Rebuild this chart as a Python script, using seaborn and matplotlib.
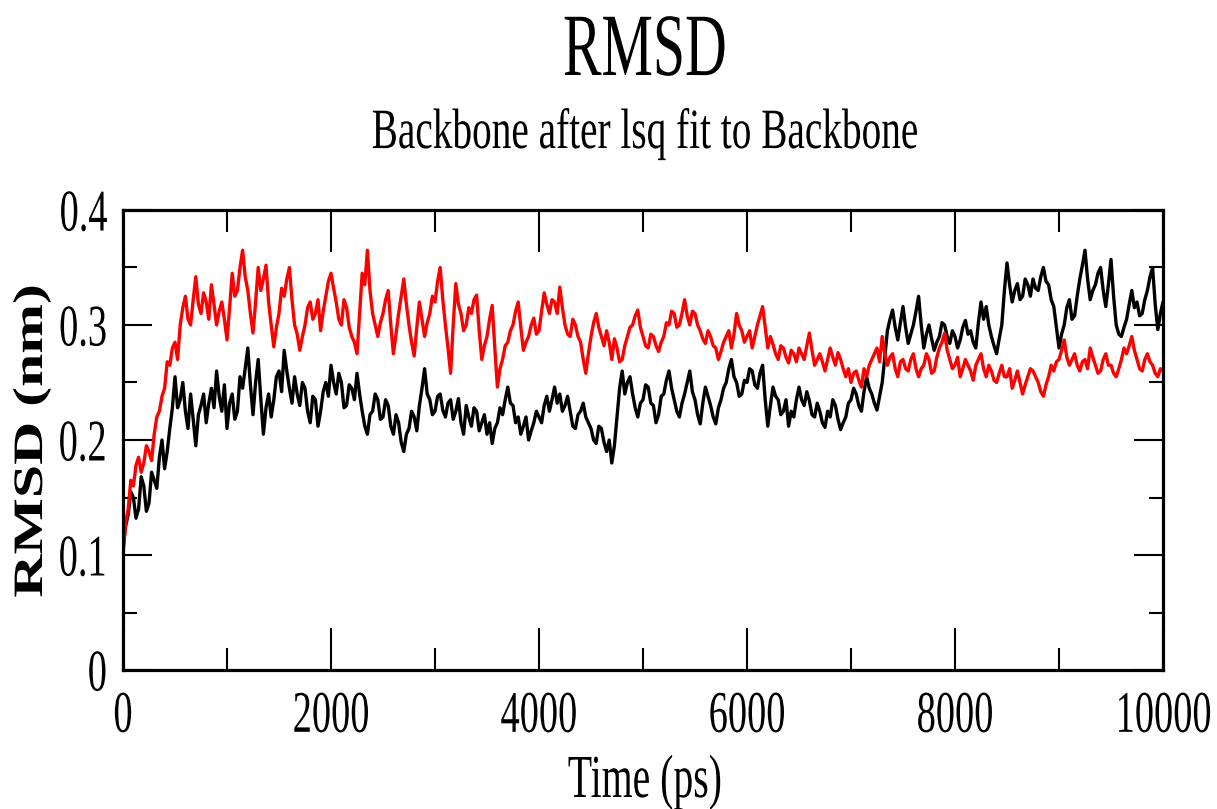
import numpy as np
import pandas as pd
import matplotlib
matplotlib.use("Agg")
import matplotlib.pyplot as plt
import seaborn as sns
from matplotlib.patheffects import AbstractPathEffect
from matplotlib.transforms import Affine2D, Bbox
from matplotlib.ticker import MultipleLocator

# ---------------- data (25 ps sampling) ----------------
time_ps = np.arange(0, 10001, 25)

rmsd_black = [
    0.105, 0.125, 0.135, 0.155, 0.150, 0.132, 0.140, 0.168, 0.160, 0.138,
    0.145, 0.172, 0.165, 0.158, 0.185, 0.200, 0.175, 0.190, 0.210, 0.228,
    0.255, 0.228, 0.235, 0.250, 0.225, 0.210, 0.240, 0.218, 0.195, 0.222,
    0.230, 0.240, 0.215, 0.232, 0.245, 0.228, 0.260, 0.238, 0.225, 0.248,
    0.210, 0.232, 0.240, 0.218, 0.225, 0.255, 0.245, 0.262, 0.280, 0.248,
    0.222, 0.250, 0.270, 0.236, 0.205, 0.228, 0.240, 0.220, 0.235, 0.255,
    0.260, 0.242, 0.278, 0.260, 0.245, 0.232, 0.255, 0.240, 0.230, 0.250,
    0.245, 0.225, 0.215, 0.238, 0.235, 0.212, 0.225, 0.242, 0.250, 0.238,
    0.265, 0.250, 0.240, 0.258, 0.250, 0.228, 0.230, 0.248, 0.245, 0.235,
    0.258, 0.240, 0.225, 0.212, 0.205, 0.222, 0.225, 0.240, 0.235, 0.218,
    0.220, 0.235, 0.230, 0.212, 0.205, 0.222, 0.215, 0.198, 0.190, 0.205,
    0.210, 0.225, 0.220, 0.208, 0.230, 0.245, 0.262, 0.240, 0.235, 0.222,
    0.225, 0.238, 0.240, 0.226, 0.220, 0.232, 0.235, 0.218, 0.225, 0.236,
    0.215, 0.205, 0.230, 0.220, 0.212, 0.228, 0.225, 0.208, 0.215, 0.222,
    0.205, 0.215, 0.197, 0.210, 0.215, 0.228, 0.222, 0.235, 0.246, 0.232,
    0.230, 0.215, 0.220, 0.205, 0.212, 0.220, 0.200, 0.208, 0.215, 0.225,
    0.220, 0.215, 0.230, 0.238, 0.225, 0.235, 0.246, 0.232, 0.240, 0.225,
    0.230, 0.238, 0.225, 0.212, 0.210, 0.222, 0.225, 0.232, 0.220, 0.215,
    0.210, 0.200, 0.197, 0.212, 0.210, 0.198, 0.190, 0.200, 0.180, 0.195,
    0.220, 0.245, 0.260, 0.240, 0.250, 0.255, 0.240, 0.228, 0.220, 0.232,
    0.235, 0.248, 0.246, 0.232, 0.230, 0.215, 0.222, 0.238, 0.240, 0.252,
    0.260, 0.245, 0.235, 0.225, 0.220, 0.232, 0.240, 0.250, 0.260, 0.242,
    0.235, 0.222, 0.214, 0.232, 0.246, 0.238, 0.230, 0.220, 0.214, 0.228,
    0.235, 0.245, 0.250, 0.262, 0.270, 0.255, 0.250, 0.238, 0.240, 0.252,
    0.250, 0.262, 0.260, 0.248, 0.245, 0.258, 0.265, 0.235, 0.212, 0.230,
    0.246, 0.238, 0.235, 0.222, 0.225, 0.235, 0.212, 0.225, 0.220, 0.235,
    0.246, 0.235, 0.230, 0.242, 0.234, 0.222, 0.220, 0.232, 0.225, 0.215,
    0.211, 0.225, 0.220, 0.235, 0.230, 0.218, 0.209, 0.215, 0.220, 0.232,
    0.235, 0.245, 0.240, 0.230, 0.225, 0.242, 0.255, 0.245, 0.240, 0.232,
    0.226, 0.238, 0.250, 0.272, 0.295, 0.305, 0.313, 0.298, 0.287, 0.302,
    0.316, 0.298, 0.284, 0.292, 0.300, 0.312, 0.325, 0.300, 0.280, 0.292,
    0.300, 0.288, 0.278, 0.285, 0.290, 0.302, 0.300, 0.290, 0.284, 0.295,
    0.290, 0.280, 0.287, 0.298, 0.304, 0.292, 0.295, 0.285, 0.280, 0.302,
    0.320, 0.305, 0.316, 0.300, 0.290, 0.282, 0.275, 0.288, 0.300, 0.330,
    0.354, 0.335, 0.320, 0.330, 0.336, 0.322, 0.325, 0.340, 0.335, 0.325,
    0.340, 0.332, 0.330, 0.342, 0.350, 0.338, 0.335, 0.322, 0.316, 0.298,
    0.280, 0.292, 0.300, 0.315, 0.322, 0.305, 0.308, 0.325, 0.340, 0.352,
    0.365, 0.340, 0.322, 0.330, 0.335, 0.345, 0.350, 0.330, 0.316, 0.335,
    0.357, 0.325, 0.300, 0.292, 0.290, 0.298, 0.305, 0.318, 0.330, 0.315,
    0.320, 0.308, 0.310, 0.322, 0.330, 0.342, 0.350, 0.318, 0.296, 0.310,
    0.320,
]

rmsd_red = [
    0.100, 0.128, 0.140, 0.165, 0.160, 0.178, 0.185, 0.172, 0.180, 0.195,
    0.190, 0.182, 0.205, 0.220, 0.225, 0.238, 0.245, 0.268, 0.265, 0.280,
    0.285, 0.270, 0.300, 0.315, 0.325, 0.305, 0.300, 0.322, 0.342, 0.318,
    0.310, 0.328, 0.320, 0.305, 0.335, 0.318, 0.300, 0.312, 0.320, 0.305,
    0.287, 0.315, 0.345, 0.325, 0.330, 0.350, 0.365, 0.342, 0.330, 0.310,
    0.293, 0.320, 0.350, 0.330, 0.340, 0.352, 0.320, 0.300, 0.281, 0.298,
    0.310, 0.332, 0.325, 0.340, 0.350, 0.322, 0.300, 0.292, 0.278, 0.290,
    0.300, 0.315, 0.320, 0.305, 0.310, 0.322, 0.295, 0.312, 0.325, 0.338,
    0.345, 0.332, 0.320, 0.305, 0.300, 0.322, 0.315, 0.298, 0.290, 0.285,
    0.275, 0.310, 0.345, 0.335, 0.365, 0.330, 0.310, 0.300, 0.290, 0.302,
    0.310, 0.322, 0.330, 0.300, 0.275, 0.292, 0.310, 0.325, 0.340, 0.318,
    0.300, 0.285, 0.273, 0.298, 0.320, 0.305, 0.290, 0.302, 0.310, 0.325,
    0.320, 0.338, 0.350, 0.322, 0.300, 0.280, 0.258, 0.300, 0.336, 0.318,
    0.310, 0.295, 0.300, 0.315, 0.310, 0.322, 0.326, 0.295, 0.270, 0.282,
    0.290, 0.305, 0.317, 0.280, 0.246, 0.262, 0.270, 0.282, 0.285, 0.295,
    0.300, 0.312, 0.320, 0.298, 0.278, 0.285, 0.290, 0.300, 0.306, 0.292,
    0.295, 0.312, 0.328, 0.318, 0.310, 0.322, 0.320, 0.310, 0.333, 0.315,
    0.300, 0.292, 0.290, 0.305, 0.300, 0.290, 0.285, 0.270, 0.258, 0.275,
    0.290, 0.302, 0.310, 0.298, 0.290, 0.282, 0.295, 0.285, 0.270, 0.288,
    0.280, 0.268, 0.270, 0.282, 0.290, 0.298, 0.300, 0.308, 0.313, 0.298,
    0.290, 0.282, 0.280, 0.292, 0.290, 0.282, 0.277, 0.285, 0.290, 0.302,
    0.300, 0.312, 0.310, 0.298, 0.300, 0.310, 0.322, 0.308, 0.300, 0.312,
    0.310, 0.300, 0.295, 0.288, 0.284, 0.295, 0.290, 0.282, 0.280, 0.270,
    0.277, 0.285, 0.290, 0.295, 0.280, 0.292, 0.310, 0.300, 0.295, 0.285,
    0.290, 0.295, 0.280, 0.290, 0.300, 0.308, 0.316, 0.298, 0.280, 0.290,
    0.283, 0.275, 0.270, 0.282, 0.280, 0.272, 0.267, 0.278, 0.275, 0.268,
    0.280, 0.275, 0.270, 0.282, 0.293, 0.278, 0.265, 0.270, 0.275, 0.268,
    0.260, 0.270, 0.280, 0.272, 0.265, 0.276, 0.270, 0.262, 0.255, 0.262,
    0.250, 0.258, 0.260, 0.252, 0.246, 0.262, 0.255, 0.265, 0.270, 0.275,
    0.280, 0.268, 0.290, 0.275, 0.265, 0.272, 0.275, 0.262, 0.255, 0.268,
    0.270, 0.262, 0.260, 0.270, 0.275, 0.262, 0.255, 0.262, 0.265, 0.275,
    0.270, 0.258, 0.260, 0.272, 0.280, 0.285, 0.293, 0.278, 0.270, 0.262,
    0.265, 0.272, 0.255, 0.262, 0.270, 0.265, 0.260, 0.252, 0.265, 0.270,
    0.275, 0.262, 0.255, 0.265, 0.260, 0.252, 0.250, 0.258, 0.265, 0.255,
    0.255, 0.262, 0.245, 0.252, 0.260, 0.250, 0.240, 0.248, 0.255, 0.262,
    0.260, 0.255, 0.250, 0.242, 0.238, 0.248, 0.255, 0.265, 0.260, 0.268,
    0.270, 0.278, 0.287, 0.272, 0.265, 0.270, 0.275, 0.265, 0.260, 0.268,
    0.270, 0.262, 0.280, 0.272, 0.265, 0.258, 0.260, 0.270, 0.275, 0.265,
    0.265, 0.258, 0.255, 0.262, 0.270, 0.280, 0.275, 0.282, 0.290, 0.278,
    0.270, 0.262, 0.260, 0.270, 0.275, 0.268, 0.265, 0.258, 0.255, 0.262,
    0.260,
]

series_names = ["black", "red"]
series_colors = {"black": "#000000", "red": "#ff0000"}

x_ticks = [0, 2000, 4000, 6000, 8000, 10000]
x_tick_labels = ["0", "2000", "4000", "6000", "8000", "10000"]
y_ticks = [0.0, 0.1, 0.2, 0.3, 0.4]
y_tick_labels = ["0", "0.1", "0.2", "0.3", "0.4"]

title_text = "RMSD"
subtitle_text = "Backbone after lsq fit to Backbone"
xlabel_text = "Time (ps)"
ylabel_text = "RMSD (nm)"

# ---------------- helper: horizontally condensed text ----------------
class Squash(AbstractPathEffect):
    def __init__(self, sx, mode="center"):
        super().__init__()
        self.sx = sx
        self.mode = mode

    def draw_path(self, renderer, gc, tpath, affine, rgbFace=None):
        ext = tpath.get_extents(affine)
        if self.mode == "center":
            cx = 0.5 * (ext.x0 + ext.x1)
        elif self.mode == "right":
            cx = ext.x1
        elif self.mode == "left":
            cx = ext.x0
        else:
            cx = affine.get_matrix()[0, 2]
        aff = affine + Affine2D().translate(-cx, 0).scale(self.sx, 1).translate(cx, 0)
        renderer.draw_path(gc, tpath, aff, rgbFace)


def condense(txt, sx, mode):
    txt.set_path_effects([Squash(sx, mode)])
    orig = txt.get_window_extent

    def extent(renderer=None, dpi=None):
        bb = orig(renderer, dpi)
        if mode == "center":
            cx = 0.5 * (bb.x0 + bb.x1)
        elif mode == "right":
            cx = bb.x1
        elif mode == "left":
            cx = bb.x0
        else:
            cx = txt.get_transform().transform(txt.get_position())[0]
        return Bbox([[cx + (bb.x0 - cx) * sx, bb.y0], [cx + (bb.x1 - cx) * sx, bb.y1]])

    txt.get_window_extent = extent

# ---------------- figure ----------------
sns.set_style("white")
plt.rcParams["font.family"] = ["Liberation Serif", "DejaVu Serif"]
plt.rcParams["text.color"] = "black"
plt.rcParams["axes.labelcolor"] = "black"
plt.rcParams["xtick.color"] = "black"
plt.rcParams["ytick.color"] = "black"

df = pd.concat([
    pd.DataFrame({"time": time_ps, "rmsd": rmsd_black, "series": "black"}),
    pd.DataFrame({"time": time_ps, "rmsd": rmsd_red, "series": "red"}),
])

fig = plt.figure(figsize=(12.17, 8.09), dpi=100)
ax = fig.add_axes([123 / 1217, 1 - 670 / 809, 1040 / 1217, 460 / 809])

sns.lineplot(data=df, x="time", y="rmsd", hue="series", hue_order=series_names,
             palette=series_colors, estimator=None, sort=False, legend=False,
             linewidth=2.4, ax=ax)

ax.set_xlim(0, 10000)
ax.set_ylim(0, 0.4)
ax.set_xticks(x_ticks)
ax.set_xticklabels(x_tick_labels)
ax.set_yticks(y_ticks)
ax.set_yticklabels(y_tick_labels)
ax.xaxis.set_minor_locator(MultipleLocator(1000))
ax.yaxis.set_minor_locator(MultipleLocator(0.05))

for sp in ax.spines.values():
    sp.set_visible(True)
    sp.set_linewidth(2.3)
    sp.set_color("black")

ax.tick_params(axis="x", which="major", direction="in", length=30, width=1.5,
               top=True, bottom=True, labelsize=42.5, pad=15, colors="black")
ax.tick_params(axis="x", which="minor", direction="in", length=16, width=1.5,
               top=True, bottom=True)
ax.tick_params(axis="y", which="major", direction="in", length=21, width=1.5,
               left=True, right=True, labelsize=42.5, pad=11, colors="black")
ax.tick_params(axis="y", which="minor", direction="in", length=10, width=1.5,
               left=True, right=True)

ax.set_xlabel(xlabel_text, fontsize=44, va="baseline")
ax.xaxis.set_label_coords(0.502, (670 - 797) / 460)
ax.set_ylabel(ylabel_text, fontsize=43, fontweight="bold", rotation=90,
              rotation_mode="anchor", ha="center", va="baseline")
ax.yaxis.set_label_coords((42 - 123) / 1040, 0.498)

t1 = fig.text(0.530, 1 - 75 / 809, title_text, fontsize=64, ha="center", va="baseline")
t2 = fig.text(0.530, 1 - 148 / 809, subtitle_text, fontsize=41, ha="center", va="baseline")

fig.canvas.draw()
SX = 0.65
condense(t1, SX, "center")
condense(t2, SX + 0.04, "center")
condense(ax.xaxis.label, SX, "center")
condense(ax.yaxis.label, 0.7, "origin")
for tk in ax.xaxis.get_major_ticks():
    condense(tk.label1, SX, "center")
for tk in ax.yaxis.get_major_ticks():
    condense(tk.label1, SX, "right")

fig.savefig("out.png", dpi=100)
